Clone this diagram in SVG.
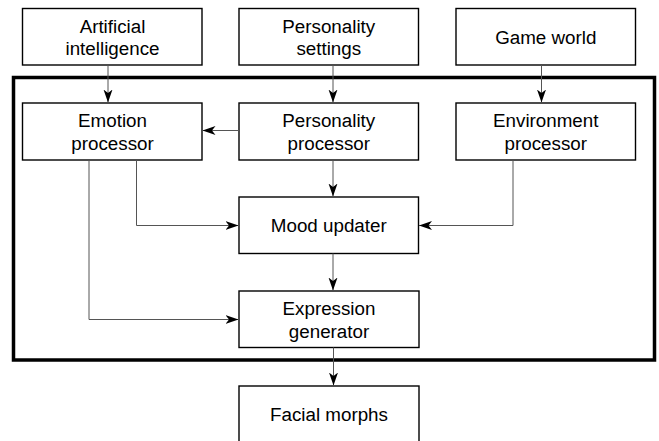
<svg xmlns="http://www.w3.org/2000/svg" width="659" height="441" viewBox="0 0 659 441">
<style>
.box{fill:#fff;stroke:#000;stroke-width:1.4}
.frame{fill:none;stroke:#000;stroke-width:3.5}
.t{font-family:"Liberation Sans",Arial,sans-serif;font-size:18.8px;fill:#000;text-anchor:middle}
.c{fill:none;stroke:#555;stroke-width:1}
</style>
<defs>
<marker id="ah" markerUnits="userSpaceOnUse" markerWidth="14" markerHeight="10" refX="13" refY="4.5" orient="auto">
<path d="M0,0 L13,4.5 L0,9 L3.5,4.5 z" fill="#000"/>
</marker>
</defs>
<rect class="frame" x="13.5" y="77.5" width="641" height="282.5"/>
<g id="ai"><rect class="box" x="22.5" y="8.5" width="179.5" height="56.5"/><text class="t" x="112.5" y="32.5">Artificial</text><text class="t" x="112.5" y="55">intelligence</text></g>
<g id="personality-settings"><rect class="box" x="239" y="8.5" width="179.5" height="56.5"/><text class="t" x="328.75" y="32.5">Personality</text><text class="t" x="328.75" y="55">settings</text></g>
<g id="game-world"><rect class="box" x="456" y="8.5" width="179.5" height="56.5"/><text class="t" x="545.75" y="43.5">Game world</text></g>
<g id="emotion"><rect class="box" x="22.5" y="103" width="179.5" height="57"/><text class="t" x="112.5" y="127">Emotion</text><text class="t" x="112.5" y="149.5">processor</text></g>
<g id="personality-processor"><rect class="box" x="239" y="103" width="179.5" height="57"/><text class="t" x="328.75" y="127">Personality</text><text class="t" x="328.75" y="149.5">processor</text></g>
<g id="environment"><rect class="box" x="456" y="103" width="179.5" height="57"/><text class="t" x="545.75" y="127">Environment</text><text class="t" x="545.75" y="149.5">processor</text></g>
<g id="mood"><rect class="box" x="239" y="197" width="179.5" height="56.5"/><text class="t" x="328.75" y="232">Mood updater</text></g>
<g id="expression"><rect class="box" x="239" y="291" width="180" height="56.5"/><text class="t" x="329" y="315">Expression</text><text class="t" x="329" y="338">generator</text></g>
<g id="facial"><rect class="box" x="239" y="386" width="180" height="62"/><text class="t" x="329" y="420.5">Facial morphs</text></g>
<g id="connectors">
<line class="c" x1="108" y1="65" x2="108" y2="102.5" marker-end="url(#ah)"/>
<line class="c" x1="333" y1="65" x2="333" y2="102.5" marker-end="url(#ah)"/>
<line class="c" x1="541.5" y1="65" x2="541.5" y2="102.5" marker-end="url(#ah)"/>
<line class="c" x1="239" y1="130.5" x2="202.5" y2="130.5" marker-end="url(#ah)"/>
<line class="c" x1="333" y1="160" x2="333" y2="196.5" marker-end="url(#ah)"/>
<path class="c" d="M136.5 160 V225.5 H238.5" marker-end="url(#ah)"/>
<path class="c" d="M513 160 V225.5 H419" marker-end="url(#ah)"/>
<line class="c" x1="333" y1="253.5" x2="333" y2="290.5" marker-end="url(#ah)"/>
<path class="c" d="M89 160 V319.5 H238.5" marker-end="url(#ah)"/>
<line class="c" x1="333.5" y1="347.5" x2="333.5" y2="385.5" marker-end="url(#ah)"/>
</g>
</svg>
